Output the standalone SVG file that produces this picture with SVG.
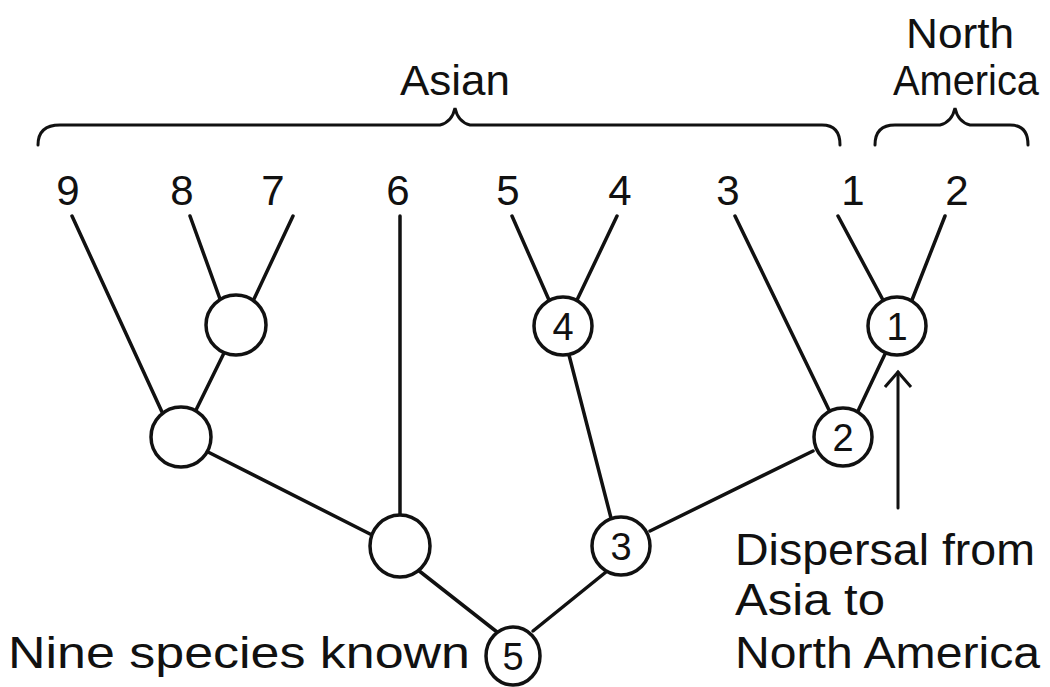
<svg xmlns="http://www.w3.org/2000/svg" width="1050" height="687" viewBox="0 0 1050 687">
<style>
text{font-family:"Liberation Sans",Arial,sans-serif;fill:#111}
.lbl{font-size:42px;text-anchor:middle}
.nd{fill:#fff;stroke:#111;stroke-width:3.5}
.nt{font-size:38px;text-anchor:middle}
.ln{stroke:#111;stroke-width:3.5;fill:none;stroke-linecap:round}
.cap{font-size:44px}
</style>
<defs>
<marker id="ah" markerWidth="24" markerHeight="32" refX="17" refY="14" orient="auto" markerUnits="userSpaceOnUse">
<path d="M2,1 L17,14 L2,27" fill="none" stroke="#111" stroke-width="3"/>
</marker>
</defs>
<rect width="1050" height="687" fill="#fff"/>
<g id="braces" class="ln">
<path d="M38,145 Q38,125 60,125 L440,125 Q452,122 455,108 Q458,122 470,125 L822,125 Q840,125 840,145" stroke-width="3"/>
<path d="M875,145 Q875,125 895,125 L940,125 Q952,122 955,108 Q958,122 970,125 L1010,125 Q1028,125 1028,145" stroke-width="3"/>
</g>
<g id="group-labels">
<text class="lbl" x="455" y="95" textLength="110" lengthAdjust="spacingAndGlyphs">Asian</text>
<text class="lbl" x="960" y="48" textLength="108" lengthAdjust="spacingAndGlyphs">North</text>
<text class="lbl" x="966" y="95" textLength="146" lengthAdjust="spacingAndGlyphs">America</text>
</g>
<g id="leaves">
<text class="lbl" x="68" y="205">9</text>
<text class="lbl" x="182" y="205">8</text>
<text class="lbl" x="273" y="205">7</text>
<text class="lbl" x="398" y="205">6</text>
<text class="lbl" x="508" y="205">5</text>
<text class="lbl" x="620" y="205">4</text>
<text class="lbl" x="728" y="205">3</text>
<text class="lbl" x="853" y="205">1</text>
<text class="lbl" x="957" y="205">2</text>
</g>
<g id="connectors" class="ln">
<line x1="72" y1="216" x2="162" y2="412"/>
<line x1="190" y1="216" x2="220" y2="299"/>
<line x1="293" y1="216" x2="254" y2="299"/>
<line x1="224" y1="353" x2="196" y2="410"/>
<line x1="208" y1="452" x2="372" y2="535"/>
<line x1="400" y1="216" x2="400" y2="516"/>
<line x1="512" y1="216" x2="549" y2="300"/>
<line x1="617" y1="216" x2="577" y2="300"/>
<line x1="569" y1="355" x2="611" y2="518"/>
<line x1="735" y1="216" x2="829" y2="410"/>
<line x1="838" y1="216" x2="883" y2="300"/>
<line x1="945" y1="216" x2="912" y2="300"/>
<line x1="885" y1="354" x2="858" y2="411"/>
<line x1="813" y1="451" x2="650" y2="531"/>
<line x1="418" y1="570" x2="497" y2="632"/>
<line x1="606" y1="572" x2="533" y2="631"/>
<line x1="898" y1="508" x2="898" y2="372" marker-end="url(#ah)" stroke-width="3"/>
</g>
<g id="node-a"><circle class="nd" cx="236" cy="325" r="30"/></g>
<g id="node-b"><circle class="nd" cx="181" cy="437" r="30"/></g>
<g id="node-c"><ellipse class="nd" cx="400" cy="546" rx="30" ry="31"/></g>
<g id="node-4"><circle class="nd" cx="563" cy="326" r="29"/><text class="nt" x="563" y="340">4</text></g>
<g id="node-1"><circle class="nd" cx="897" cy="326" r="29"/><text class="nt" x="897" y="340">1</text></g>
<g id="node-2"><circle class="nd" cx="843" cy="437" r="29"/><text class="nt" x="843" y="451">2</text></g>
<g id="node-3"><circle class="nd" cx="621" cy="546" r="29"/><text class="nt" x="621" y="560">3</text></g>
<g id="node-5"><ellipse class="nd" cx="513" cy="656" rx="27" ry="29"/><text class="nt" x="513" y="670">5</text></g>
<g id="captions">
<text class="cap" x="8" y="668" textLength="462" lengthAdjust="spacingAndGlyphs">Nine species known</text>
<text class="cap" x="735" y="565" textLength="300" lengthAdjust="spacingAndGlyphs">Dispersal from</text>
<text class="cap" x="735" y="615" textLength="150" lengthAdjust="spacingAndGlyphs">Asia to</text>
<text class="cap" x="735" y="668" textLength="305" lengthAdjust="spacingAndGlyphs">North America</text>
</g>
</svg>
